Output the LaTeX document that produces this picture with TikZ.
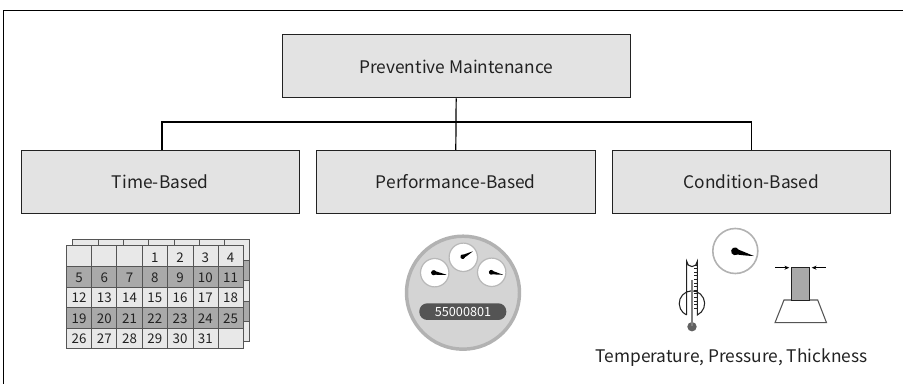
\documentclass[tikz,border=0pt]{standalone}
\usepackage{fontspec}
\setmainfont{Noto Sans CJK KR}
\usetikzlibrary{arrows.meta}
\definecolor{boxg}{HTML}{E3E3E3}
\definecolor{darkc}{HTML}{A9A9A9}
\definecolor{lightc}{HTML}{E8E8E8}
\definecolor{calln}{HTML}{555555}
\definecolor{ink}{HTML}{222222}
\tikzset{
  x=0.75pt,y=-0.75pt,
  box/.style={draw=ink,fill=boxg,line width=0.7pt,inner sep=0pt,minimum height=47.25pt,anchor=north west,font=\fontsize{13pt}{15pt}\selectfont,text=ink},
  link/.style={draw=black,line width=0.9pt},
  cal/.style={draw=calln,line width=0.7pt},
  num/.style={inner sep=0pt,font=\fontsize{10pt}{12pt}\selectfont,text=ink},
  dial/.style={draw=black!28,fill=white,line width=0.9pt},
  gap/.style={draw=black,line width=0.6pt,-{Stealth[length=3.6pt,width=3pt]}},
}
\newcommand{\needle}[4]{% x y angle length
  \begin{scope}[shift={(#1,#2)},rotate=#3]
  \fill[black] (0,0) circle[radius=#4*0.2];
  \fill[black] (0,-#4*0.14) .. controls (#4*0.4,-#4*0.1) and (#4*0.7,-#4*0.04) .. (#4,0)
     .. controls (#4*0.7,#4*0.06) and (#4*0.4,#4*0.12) .. (0,#4*0.14) -- cycle;
  \end{scope}}
\begin{document}
\begin{tikzpicture}
\useasboundingbox (0,0) rectangle (903,384);
\draw[black,line width=0.75pt] (3.7,384) -- (3.7,10.5) -- (903,10.5);
% boxes
\node[box,minimum width=261pt] (top) at (281.7,34.5) {Preventive Maintenance};
\node[box,minimum width=209pt] (left) at (20.5,150) {Time-Based};
\node[box,minimum width=209pt] (mid) at (316,150) {Performance-Based};
\node[box,minimum width=209pt] (right) at (611.7,150) {Condition-Based};
\coordinate (hub) at (455.2,122);
\draw[link] (top.south) -- (mid.north);
\draw[link] ([xshift=1.3pt]left.north) |- (hub) -| (right.north);
% back calendar sheet
\fill[lightc] (72.7,239.3) rectangle (249.3,341.7);
\fill[darkc] (72.7,260.3) rectangle (249.3,280.5);
\fill[darkc] (72.7,301.5) rectangle (249.3,321.7);
\draw[cal] (72.7,239.3) rectangle (249.3,341.7);
\foreach \yy in {260.3,280.5,301.5,321.7} \draw[cal] (72.7,\yy) -- (249.3,\yy);
\foreach \xx in {98,123.2,148.5,174,199.3,224.5} \draw[cal] (\xx,239.3) -- (\xx,341.7);
% front calendar sheet
\fill[lightc] (66.7,245.7) rectangle (243.3,348);
\fill[darkc] (66.7,266.3) rectangle (243.3,287);
\fill[darkc] (66.7,307.7) rectangle (243.3,328.3);
\draw[cal] (66.7,245.7) rectangle (243.3,348);
\foreach \yy in {266.3,287,307.7,328.3} \draw[cal] (66.7,\yy) -- (243.3,\yy);
\foreach \xx in {91.5,116.7,142.3,167.7,193.3,218.3} \draw[cal] (\xx,245.7) -- (\xx,348);
\foreach \n/\cc/\rr in {1/3/0,2/4/0,3/5/0,4/6/0,5/0/1,6/1/1,7/2/1,8/3/1,9/4/1,10/5/1,11/6/1,12/0/2,13/1/2,14/2/2,15/3/2,16/4/2,17/5/2,18/6/2,19/0/3,20/1/3,21/2/3,22/3/3,23/4/3,24/5/3,25/6/3,26/0/4,27/1/4,28/2/4,29/3/4,30/4/4,31/5/4}{
  \pgfmathsetmacro{\px}{79+25.27*\cc}
  \pgfmathsetmacro{\py}{257.6+20.25*\rr}
  \node[num] (d\n) at (\px,\py) {\n};
}
% meter
\draw[draw=black!30,fill=black!17,line width=2.6pt] (463,292.7) circle[radius=56.5];
\draw[dial] (434.7,272.7) circle[radius=14.2];
\draw[dial] (463.3,257.3) circle[radius=14.2];
\draw[dial] (491.7,272.3) circle[radius=14.2];
\needle{433.7}{272.7}{-9}{13}
\needle{462.7}{256.7}{28}{11.5}
\needle{491.3}{272.3}{-12}{12}
\fill[black!67,rounded corners=6pt] (419.3,303.3) rectangle (506.3,320);
\node[inner sep=0pt,text=white,font=\fontsize{9.5pt}{11pt}\selectfont] (count) at (463,311.5) {55000801};
% thermometer
\draw[ink,line width=0.8pt] (686.7,315) -- (686.7,261.3) arc[start angle=180,end angle=0,radius=5.3] -- (697.3,315)
  arc[start angle=65,end angle=-245,radius=12.7];
\fill[black!62] (692,326.7) circle[radius=4.7];
\draw[black!50,line width=1.6pt] (692,280) -- (692,326);
\foreach \k in {0,...,12} \draw[ink,line width=0.5pt] (694,{265+\k*3.6}) -- (697.3,{265+\k*3.6});
% pressure gauge
\draw[draw=black!30,fill=white,line width=1.2pt] (735.3,251) circle[radius=22.5];
\needle{735}{251.3}{-14}{19.5}
% thickness
\draw[calln,line width=0.8pt] (784,300) -- (817.7,300) -- (826.5,322.7) -- (775,322.7) -- cycle;
\draw[draw=ink,fill=darkc,line width=0.8pt] (791.7,267.7) rectangle (809.3,300.3);
\coordinate (la) at (775.3,267.7);
\coordinate (ra) at (825.7,267.7);
\draw[gap] (la) -- (789.3,267.7);
\draw[gap] (ra) -- (811.7,267.7);
\node[inner sep=0pt,text=ink,font=\fontsize{13pt}{15pt}\selectfont] (cap) at (731.5,358) {Temperature, Pressure, Thickness};
\end{tikzpicture}
\end{document}
